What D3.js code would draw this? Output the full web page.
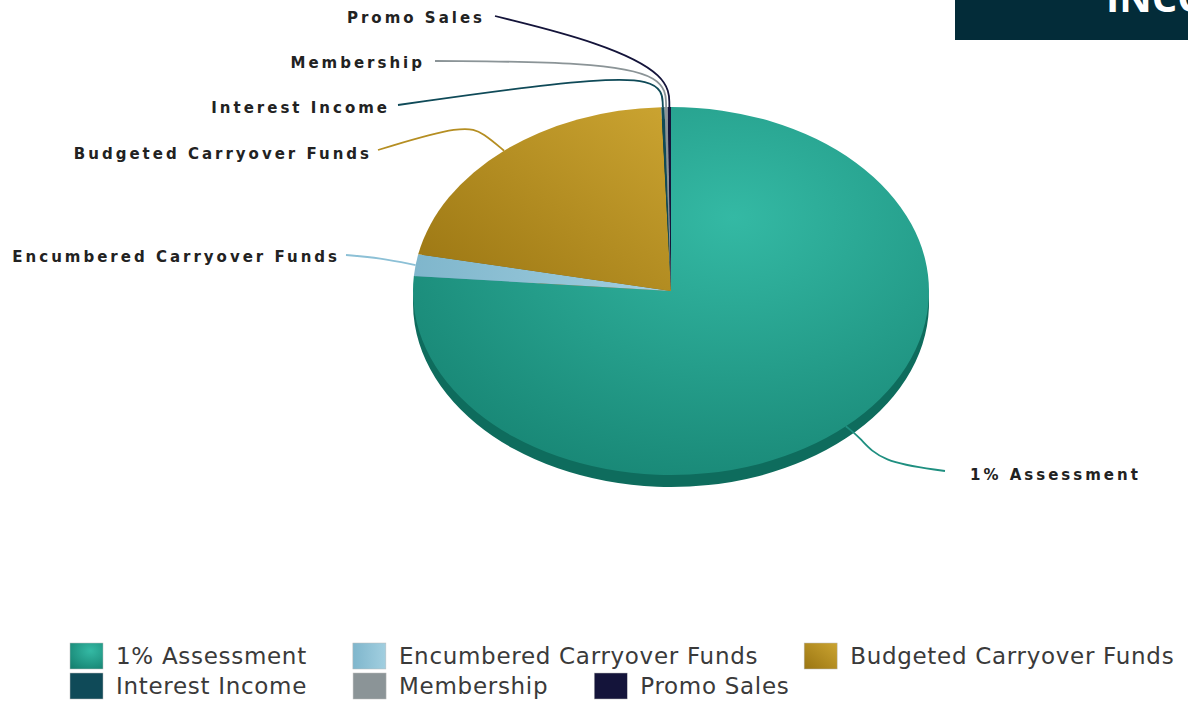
<!DOCTYPE html>
<html>
<head>
<meta charset="utf-8">
<script src="https://cdn.jsdelivr.net/npm/d3@7"></script>
<style>
  body { margin: 0; background: #fff; }
  svg { display: block; }
</style>
</head>
<body>
<svg width="1188" height="704"></svg>
<script>
// income breakdown, percent of total
const categories = ['1% Assessment', 'Encumbered Carryover Funds', 'Budgeted Carryover Funds',
  'Interest Income', 'Membership', 'Promo Sales'];
const values = [76.3, 1.9, 21.2, 0.2, 0.2, 0.2];
const colors = ['#1f9c89', '#8cc0d6', '#b58e22', '#0f4a58', '#8b9497', '#14143a'];
const sideColors = ['#0e6c5d', '#5f93a8', '#7e6112', '#08303a', '#5d6466', '#0a0a22'];

var svg = d3.select('svg');
var cx = 671, cy = 291;
var rx = 258, ry = 184;
var depth = 12;

// where each label sits (annotation layout only)
var labelLayout = [
  { x: 970, y: 480, anchor: 'start', k: 1.08, end: [945, 471], bend: [880, 462] },
  { x: 340, y: 262, anchor: 'end', k: 1.0, end: [346, 255], bend: [380, 258] },
  { x: 372, y: 159, anchor: 'end', k: 1.12, end: [378, 150], bend: [465, 124] },
  { x: 390, y: 113, anchor: 'end', k: 1.17, end: [398, 105], bend: [560, 82] },
  { x: 425, y: 68, anchor: 'end', k: 1.17, end: [435, 61], bend: [590, 62] },
  { x: 485, y: 23, anchor: 'end', k: 1.17, end: [495, 16], bend: [600, 42] }
];

var defs = svg.append('defs');
var g0 = defs.append('radialGradient').attr('id', 'grad0')
  .attr('cx', 0.62).attr('cy', 0.3).attr('r', 0.85);
g0.append('stop').attr('offset', '0%').attr('stop-color', '#34b9a4');
g0.append('stop').attr('offset', '100%').attr('stop-color', '#158170');
var g2 = defs.append('linearGradient').attr('id', 'grad2')
  .attr('x1', 0).attr('y1', 1).attr('x2', 1).attr('y2', 0);
g2.append('stop').attr('offset', '0%').attr('stop-color', '#9a7512');
g2.append('stop').attr('offset', '100%').attr('stop-color', '#cba431');
var g1 = defs.append('linearGradient').attr('id', 'grad1');
g1.append('stop').attr('offset', '0%').attr('stop-color', '#7fb6cc');
g1.append('stop').attr('offset', '100%').attr('stop-color', '#a2cfe0');

function fillFor(i) {
  if (i == 0) return 'url(#grad0)';
  if (i == 1) return 'url(#grad1)';
  if (i == 2) return 'url(#grad2)';
  return colors[i];
}

var pie = d3.pie().sort(null).value(d => d.value);
var slices = pie(categories.map((c, i) => ({ name: c, value: values[i], i: i })));
var R = 100;
var arc = d3.arc().innerRadius(0).outerRadius(R);

function pt(a, k) {
  return [cx + rx * k * Math.sin(a), cy - ry * k * Math.cos(a)];
}

// side wall of the disc
var sideG = svg.append('g')
  .attr('transform', 'translate(' + [cx, cy + depth] + ') scale(' + [rx / R, ry / R] + ')');
sideG.selectAll('path')
  .data(slices)
  .enter().append('path')
  .attr('d', arc)
  .attr('fill', d => sideColors[d.data.i]);

// top face
var topG = svg.append('g')
  .attr('transform', 'translate(' + [cx, cy] + ') scale(' + [rx / R, ry / R] + ')');
topG.selectAll('path')
  .data(slices)
  .enter().append('path')
  .attr('d', arc)
  .attr('fill', d => fillFor(d.data.i));

// leader lines
var line = d3.line().curve(d3.curveBasis);
var labelG = svg.append('g');
slices.forEach(function(s, i) {
  var lay = labelLayout[i];
  var mid = (s.startAngle + s.endAngle) / 2;
  var p0 = pt(mid, 1.0);
  var p1 = pt(mid, lay.k);
  var pts = lay.k > 1 ? [p0, p1, lay.bend, lay.end] : [p0, lay.bend, lay.end];
  labelG.append('path')
    .attr('d', line(pts))
    .attr('fill', 'none')
    .attr('stroke', i == 0 ? '#1f8f80' : colors[i])
    .attr('stroke-width', 1.8);
  labelG.append('text')
    .text(categories[i])
    .attr('x', lay.x)
    .attr('y', lay.y)
    .attr('text-anchor', lay.anchor)
    .style('font-family', 'DejaVu Sans, Verdana, sans-serif')
    .style('font-size', '15px')
    .style('font-weight', 'bold')
    .style('letter-spacing', '3px')
    .style('fill', '#222');
});

// legend, flowing left to right
var legendG = svg.append('g');
var lx = 70, ly = 643, rowH = 30, maxX = 1190;
categories.forEach(function(c, i) {
  var item = legendG.append('g');
  item.append('rect')
    .attr('width', 33).attr('height', 26)
    .attr('fill', fillFor(i))
    .attr('stroke', '#bbb').attr('stroke-width', 0.5);
  var t = item.append('text')
    .text(c)
    .attr('x', 46).attr('y', 21)
    .style('font-family', 'DejaVu Sans, Verdana, sans-serif')
    .style('font-size', '23px')
    .style('letter-spacing', '0.7px')
    .style('fill', '#3a3a3a');
  var w = 46 + t.node().getComputedTextLength();
  if (lx + w > maxX) {
    lx = 70;
    ly += rowH;
  }
  item.attr('transform', 'translate(' + [lx, ly] + ')');
  lx += w + 46;
});

// title box in the corner
svg.append('rect')
  .attr('x', 955).attr('y', -2).attr('width', 240).attr('height', 42)
  .attr('fill', '#032c39');
svg.append('text')
  .text('INCOME')
  .attr('x', 1106).attr('y', 12)
  .style('font-family', 'Open Sans, sans-serif')
  .style('font-size', '40px')
  .style('font-weight', 'bold')
  .style('fill', '#fff');
</script>
</body>
</html>
